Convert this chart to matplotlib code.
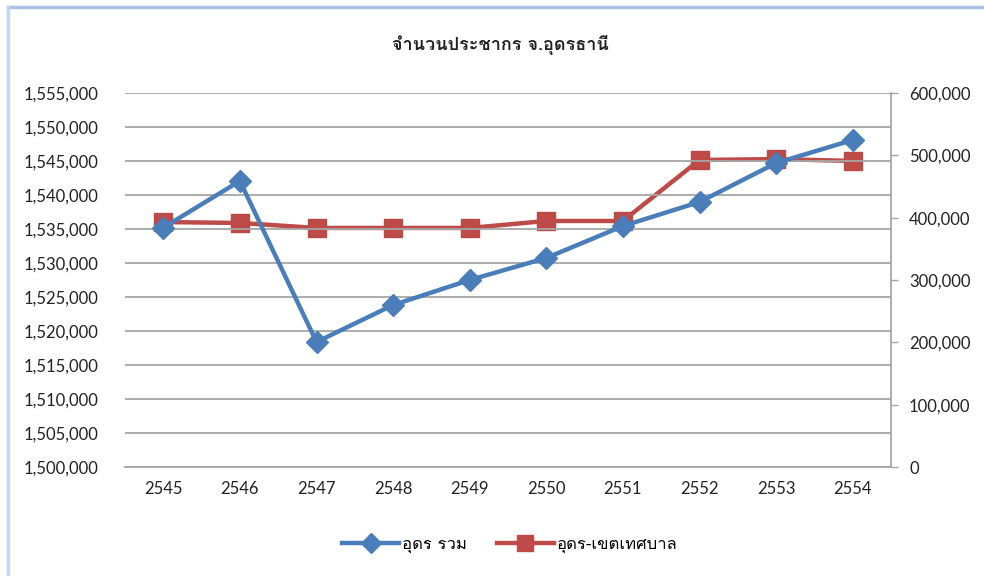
import matplotlib
matplotlib.use("Agg")
import matplotlib.pyplot as plt
from matplotlib.lines import Line2D
from matplotlib.ticker import FuncFormatter, MultipleLocator

# data
years = ["2545", "2546", "2547", "2548", "2549", "2550", "2551", "2552", "2553", "2554"]
udon_total = [1535200, 1542060, 1518380, 1523820, 1527500, 1530740, 1535440, 1538970, 1544700, 1548090]
udon_municipal = [393000, 391500, 383500, 383500, 383500, 394700, 394700, 492500, 494000, 491000]

title = "จำนวนประชากร จ.อุดรธานี"
label_total = "อุดร รวม"
label_municipal = "อุดร-เขตเทศบาล"

blue = "#4a7ebb"
red = "#be4b48"
grid_gray = "#a6a6a6"
thai_fonts = ["Loma", "Noto Sans Thai Looped", "DejaVu Sans"]

plt.rcParams["font.family"] = ["Lato", "Noto Sans Thai Looped", "DejaVu Sans"]

fig = plt.figure(figsize=(9.84, 5.76), dpi=100)
ax = fig.add_axes([125 / 984, 1 - 467 / 576, (891 - 125) / 984, (467 - 93) / 576])
ax2 = ax.twinx()

x = list(range(len(years)))

# left axis: whole province
ax.plot(x, udon_total, color=blue, lw=3.2, marker="D", markersize=11,
        markeredgecolor=blue, zorder=3, solid_joinstyle="round")
ax.set_ylim(1500000, 1555000)
ax.yaxis.set_major_locator(MultipleLocator(5000))
ax.yaxis.set_major_formatter(FuncFormatter(lambda v, p: f"{int(v):,}"))
ax.grid(axis="y", color=grid_gray, lw=1.3)
ax.set_axisbelow(True)
ax.set_xlim(-0.5, len(years) - 0.5)
ax.set_xticks(x)
ax.set_xticklabels(years)
ax.tick_params(axis="x", length=0, pad=10, labelsize=12, colors="#222222")
ax.tick_params(axis="y", length=0, pad=19, labelsize=12, colors="#222222")

# right axis: municipal area
ax2.plot(x, udon_municipal, color=red, lw=3.2, marker="s", markersize=13,
         markeredgecolor="#b84a47", zorder=2, solid_joinstyle="round")
ax2.set_ylim(0, 600000)
ax2.yaxis.set_major_locator(MultipleLocator(100000))
ax2.yaxis.set_major_formatter(FuncFormatter(lambda v, p: f"{int(v):,}"))
ax2.tick_params(axis="y", length=5, width=1, pad=8, labelsize=12, colors="#222222")
ax2.tick_params(axis="y", which="both", color=grid_gray)

# put the blue series above the red one
ax.set_zorder(ax2.get_zorder() + 1)
ax.patch.set_visible(False)

for a in (ax, ax2):
    a.spines["top"].set_visible(False)
    a.spines["left"].set_visible(False)
ax.spines["right"].set_visible(False)
ax2.spines["right"].set_color(grid_gray)
ax2.spines["right"].set_linewidth(1.3)
ax.spines["bottom"].set_color(grid_gray)
ax.spines["bottom"].set_linewidth(1.3)
ax2.spines["bottom"].set_visible(False)

fig.text(500 / 984, 1 - 45 / 576, title, ha="center", va="center",
         fontsize=13, fontweight="bold", family=thai_fonts, color="#222222")

handles = [
    Line2D([], [], color=blue, lw=3.2, marker="D", markersize=10),
    Line2D([], [], color=red, lw=3.2, marker="s", markersize=12),
]
fig.legend(handles, [label_total, label_municipal], loc="center",
           bbox_to_anchor=(510 / 984, 1 - 545 / 576), ncol=2, frameon=False,
           prop={"family": thai_fonts, "size": 12}, handlelength=3.4,
           columnspacing=1.8, handletextpad=0.2)

# light blue chart-area border (top and left edges)
fig.add_artist(Line2D([8 / 984, 1], [1 - 7 / 576, 1 - 7 / 576], transform=fig.transFigure,
                      color="#a9c1e6", lw=2.5))
fig.add_artist(Line2D([8 / 984, 8 / 984], [0, 1 - 7 / 576], transform=fig.transFigure,
                      color="#c5d6ef", lw=2.5))

fig.savefig("out.png", dpi=100)
